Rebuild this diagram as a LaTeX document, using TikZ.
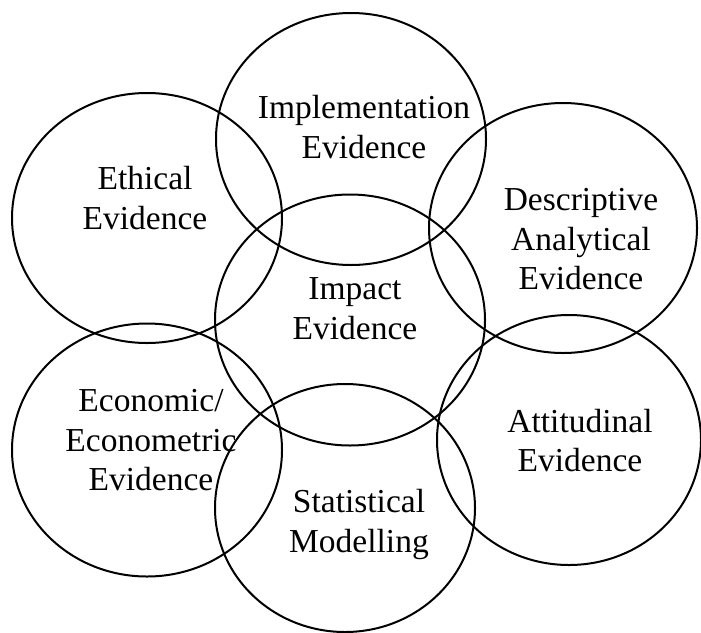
\documentclass[tikz,border=0pt]{standalone}
\usepackage{fontspec}
\setmainfont{Liberation Serif}
\usetikzlibrary{shapes.geometric}

\tikzset{
	bubble/.style={draw, ellipse, line width=1pt, inner sep=0pt},
	word/.style={align=center, inner sep=0pt, font=\fontsize{16.75}{19.75}\selectfont}
}

\begin{document}
\begin{tikzpicture}[x=0.5pt, y=-0.5pt]
	
	\useasboundingbox (0,0) rectangle (701,632);
	
	\coordinate (impl) at (351,139);
	\coordinate (eth) at (147,218);
	\coordinate (desc) at (563,228);
	\coordinate (imp) at (350,320);
	\coordinate (econ) at (147,450);
	\coordinate (stat) at (345,508);
	\coordinate (att) at (569,440);
	
	\node[bubble, minimum width=135pt, minimum height=126pt] (implE) at (impl) {};
	\node[bubble, minimum width=135pt, minimum height=125pt] (ethE) at (eth) {};
	\node[bubble, minimum width=134pt, minimum height=125pt] (descE) at (desc) {};
	\node[bubble, minimum width=135pt, minimum height=125.5pt] (impE) at (imp) {};
	\node[bubble, minimum width=135pt, minimum height=126.5pt] (econE) at (econ) {};
	\node[bubble, minimum width=130pt, minimum height=124pt] (statE) at (stat) {};
	\node[bubble, minimum width=132pt, minimum height=125pt] (attE) at (att) {};
	
	\node[word] (implT) at (364,127) {Implementation\\Evidence};
	\node[word] (ethT) at (145,198) {Ethical\\Evidence};
	\node[word] (descT) at (581,239.5) {Descriptive\\Analytical\\Evidence};
	\node[word] (impT) at (355,308.5) {Impact\\Evidence};
	\node[word] (econT) at (151,440.5) {Economic/\\Econometric\\Evidence};
	\node[word] (statT) at (359,524.5) {Statistical\\Modelling};
	\node[word] (attT) at (580,440.5) {Attitudinal\\Evidence};
	
\end{tikzpicture}
\end{document}
